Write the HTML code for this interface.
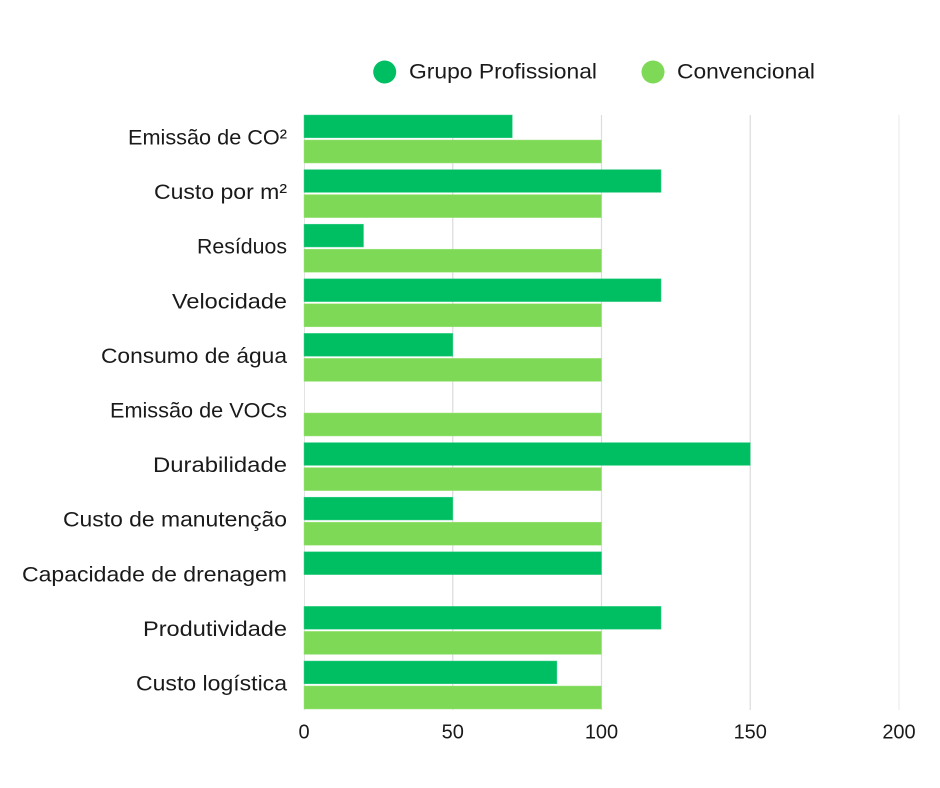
<!DOCTYPE html>
<html>
<head>
<meta charset="utf-8">
<style>
html,body{margin:0;padding:0;background:#fff;}
svg{display:block;}
text{font-family:"Liberation Sans",sans-serif;fill:#1a1a1a;}
</style>
</head>
<body>
<svg width="940" height="788" viewBox="0 0 940 788" xmlns="http://www.w3.org/2000/svg">
  <!-- legend -->
  <circle cx="384.7" cy="72" r="11.5" fill="#00BF63"/>
  <text x="409" y="78.5" font-size="21" textLength="188" lengthAdjust="spacingAndGlyphs">Grupo Profissional</text>
  <circle cx="653" cy="72" r="11.5" fill="#7ED957"/>
  <text x="677" y="78.5" font-size="21" textLength="138" lengthAdjust="spacingAndGlyphs">Convencional</text>

  <!-- gridlines -->
  <line x1="304.5" y1="115" x2="304.5" y2="710" stroke="#e3e3e3" stroke-width="1"/>
  <line x1="452.75" y1="115" x2="452.75" y2="710" stroke="#dcdcdc" stroke-width="1.2"/>
  <line x1="601.5" y1="115" x2="601.5" y2="710" stroke="#dcdcdc" stroke-width="1.2"/>
  <line x1="750.25" y1="115" x2="750.25" y2="710" stroke="#dcdcdc" stroke-width="1.2"/>
  <line x1="899" y1="115" x2="899" y2="710" stroke="#ececec" stroke-width="1.2"/>

  <!-- bars: dark y = 115 + i*54.6 ; light = dark + 25 -->
  <g fill="#00BF63" stroke="#3fd08a" stroke-width="0.5">
    <rect x="304" y="115" width="208.3" height="22.8"/>
    <rect x="304" y="169.6" width="357" height="22.8"/>
    <rect x="304" y="224.2" width="59.5" height="22.8"/>
    <rect x="304" y="278.8" width="357" height="22.8"/>
    <rect x="304" y="333.4" width="148.75" height="22.8"/>
    <rect x="304" y="442.6" width="446.25" height="22.8"/>
    <rect x="304" y="497.2" width="148.75" height="22.8"/>
    <rect x="304" y="551.8" width="297.5" height="22.8"/>
    <rect x="304" y="606.4" width="357" height="22.8"/>
    <rect x="304" y="661" width="252.9" height="22.8"/>
  </g>
  <g fill="#7ED957" stroke="#a0e47f" stroke-width="0.5">
    <rect x="304" y="140" width="297.5" height="23"/>
    <rect x="304" y="194.6" width="297.5" height="23"/>
    <rect x="304" y="249.2" width="297.5" height="23"/>
    <rect x="304" y="303.8" width="297.5" height="23"/>
    <rect x="304" y="358.4" width="297.5" height="23"/>
    <rect x="304" y="413" width="297.5" height="23"/>
    <rect x="304" y="467.6" width="297.5" height="23"/>
    <rect x="304" y="522.2" width="297.5" height="23"/>
    <rect x="304" y="631.4" width="297.5" height="23"/>
    <rect x="304" y="686" width="297.5" height="23"/>
  </g>

  <!-- category labels -->
  <g font-size="21" text-anchor="end" >
    <text x="287" y="144.5" textLength="159" lengthAdjust="spacingAndGlyphs">Emissão de CO²</text>
    <text x="287" y="199.1" textLength="133" lengthAdjust="spacingAndGlyphs">Custo por m²</text>
    <text x="287" y="253.7" textLength="90" lengthAdjust="spacingAndGlyphs">Resíduos</text>
    <text x="287" y="308.3" textLength="115" lengthAdjust="spacingAndGlyphs">Velocidade</text>
    <text x="287" y="362.9" textLength="186" lengthAdjust="spacingAndGlyphs">Consumo de água</text>
    <text x="287" y="417.5" textLength="177" lengthAdjust="spacingAndGlyphs">Emissão de VOCs</text>
    <text x="287" y="472.1" textLength="134" lengthAdjust="spacingAndGlyphs">Durabilidade</text>
    <text x="287" y="526.7" textLength="224" lengthAdjust="spacingAndGlyphs">Custo de manutenção</text>
    <text x="287" y="581.3" textLength="265" lengthAdjust="spacingAndGlyphs">Capacidade de drenagem</text>
    <text x="287" y="635.9" textLength="144" lengthAdjust="spacingAndGlyphs">Produtividade</text>
    <text x="287" y="690.5" textLength="151" lengthAdjust="spacingAndGlyphs">Custo logística</text>
  </g>

  <!-- x tick labels -->
  <g font-size="20" text-anchor="middle">
    <text x="304" y="738.5">0</text>
    <text x="452.75" y="738.5">50</text>
    <text x="601.5" y="738.5">100</text>
    <text x="750.25" y="738.5">150</text>
    <text x="899" y="738.5">200</text>
  </g>
</svg>
</body>
</html>
